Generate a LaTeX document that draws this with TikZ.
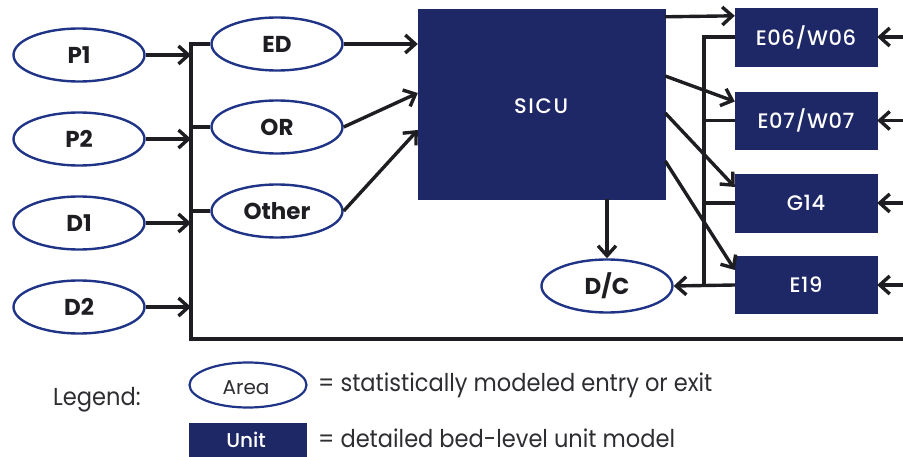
\documentclass[tikz,border=0pt]{standalone}
\usepackage{fontspec}
\setmainfont{Poppins}
\newfontfamily\unitfont{Poppins}[UprightFont=* Medium]
\usetikzlibrary{arrows.meta,shapes.geometric,calc}
\definecolor{navy}{RGB}{31,40,102}
\definecolor{ringblue}{RGB}{32,52,135}
\definecolor{ink}{RGB}{30,30,34}
\definecolor{legendgray}{RGB}{45,45,50}

\begin{document}
\begin{tikzpicture}[x=1pt,y=-1pt,
  area/.style={ellipse, draw=ringblue, line width=2.4pt, fill=white,
    minimum width=131pt, minimum height=53pt, inner sep=0pt, text=ink,
    font=\bfseries\fontsize{23}{23}\selectfont},
  unit/.style={rectangle, fill=navy, draw=navy, text=white, inner sep=0pt,
    font=\unitfont\fontsize{21}{21}\selectfont\addfontfeature{LetterSpace=3}},
  wire/.style={draw=ink, line width=3.4pt},
  flow/.style={wire, -{Straight Barb[length=10pt,width=18pt,line width=3.4pt]}},
  legendtext/.style={text=legendgray, anchor=base west, inner sep=0pt,
    font=\fontsize{24.5}{24.5}\selectfont\addfontfeature{FakeStretch=0.92}}]

\useasboundingbox (0,0) rectangle (903,457);

% arrival sources
\node[area] (P1) at (79,55) {P1};
\node[area] (P2) at (79,139) {P2};
\node[area] (D1) at (79,223) {D1};
\node[area] (D2) at (79,307) {D2};

% entry areas
\node[area] (ED) at (277,44) {ED};
\node[area] (OR) at (277,127) {OR};
\node[area] (Other) at (277,211) {Other};

% units
\node[unit, minimum width=247pt, minimum height=190pt] (SICU) at (541.5,104) {};
\node[text=white, font=\unitfont\fontsize{21}{21}\selectfont\addfontfeature{LetterSpace=8}]
  (sicutext) at (541,106) {SICU};
\node[unit, minimum width=142pt, minimum height=58pt] (E06) at (806,37) {E06/W06};
\node[unit, minimum width=142pt, minimum height=57pt] (E07) at (806,120.5) {E07/W07};
\node[unit, minimum width=142pt, minimum height=58pt] (G14) at (806,203) {G14};
\node[unit, minimum width=142pt, minimum height=57pt] (E19) at (806,285) {E19};

% discharge
\node[area] (DC) at (607,286) {D/C};

% collecting bus
\coordinate (bt) at (191,42);
\coordinate (bb) at (191,339);
\coordinate (br) at (903,339);
\draw[wire] (bt) -- (bb) -- (br);

\foreach \s in {P1,P2,D1,D2}
  \draw[flow] (\s.east) -- (\s.east -| bt);

\draw[wire] (bt |- ED.west) -- (ED.west);
\draw[wire] (bt |- OR.west) -- (OR.west);
\draw[wire] (bt |- Other.west) -- (Other.west);

% into SICU
\draw[flow] (ED.east) -- (ED.east -| SICU.west);
\draw[flow] (OR.east) -- ($(SICU.west)+(0,-11)$);
\draw[flow] (Other.east) -- ($(SICU.west)+(0,26)$);

% out of SICU
\draw[flow] ($(SICU.north east)+(0,8)$) -- ($(E06.north west)+(0,8)$);
\draw[flow] ($(SICU.east)+(0,-28)$) -- ($(E07.west)+(0,-19)$);
\draw[flow] ($(SICU.east)+(0,9)$) -- ($(G14.west)+(0,-16)$);
\draw[flow] ($(SICU.east)+(0,57)$) -- ($(E19.west)+(0,-15)$);
\draw[flow] (SICU.south -| DC.north) -- (DC.north);

% transfers back between units and discharge
\coordinate (vx) at (704,0);
\draw[wire] (E06.west) -- (E06.west -| vx) -- (E19.west -| vx);
\draw[wire] (E07.west) -- (E07.west -| vx);
\draw[wire] (G14.west) -- (G14.west -| vx);
\draw[flow] (E19.west) -- (DC.east);

% inflow from the right
\coordinate (rx) at (903,0);
\foreach \u in {E06,E07,G14,E19}
  \draw[flow] (\u.east -| rx) -- (\u.east);

% legend
\node[legendtext] (leg) at (53,405) {Legend:};
\node[ellipse, draw=ringblue, line width=2.2pt, minimum width=117pt,
  minimum height=45pt, inner sep=0pt] (legarea) at (248,385) {};
\node[text=legendgray, anchor=base, inner sep=0pt,
  font=\fontsize{20}{20}\selectfont] (legareaname) at (246,394) {Area};
\node[legendtext] (legareatext) at (318,391) {= statistically modeled entry or exit};
\node[unit, minimum width=117pt, minimum height=36pt] (legunit) at (248,441) {};
\node[text=white, anchor=base, inner sep=0pt,
  font=\unitfont\fontsize{20}{20}\selectfont] (legunitname) at (246,447) {Unit};
\node[legendtext] (legunittext) at (318,447) {= detailed bed-level unit model};
\end{tikzpicture}
\end{document}
